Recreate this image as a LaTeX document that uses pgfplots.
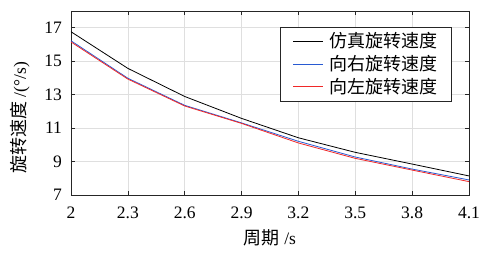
\documentclass[border=0pt]{standalone}
\usepackage{pgfplots}
\pgfplotsset{compat=1.18}
\usepackage{fontspec}
\setmainfont{Liberation Serif}
\newfontfamily\cjk{Noto Sans CJK SC}
\definecolor{myblue}{RGB}{40,90,210}
\definecolor{myred}{RGB}{240,40,40}
\definecolor{axgray}{RGB}{38,38,38}
\begin{document}
\fontsize{17.5}{20}\selectfont
\begin{tikzpicture}
\useasboundingbox (-71pt,-59pt) rectangle (420pt,195pt);
\begin{axis}[
  at={(0pt,0pt)}, anchor=south west,
  scale only axis, width=398pt, height=184pt,
  xmin=2, xmax=4.1, ymin=7, ymax=18,
  xtick={2,2.3,2.6,2.9,3.2,3.5,3.8,4.1},
  xticklabels={2,2.3,2.6,2.9,3.2,3.5,3.8,4.1},
  ytick={7,9,11,13,15,17},
  yticklabels={7,9,11,13,15,17},
  tick align=inside, major tick length=4pt,
  axis line style={axgray, line width=0.8pt},
  tick style={axgray, line width=0.6pt},
  grid=major, grid style={gray!25, line width=0.5pt},
  /pgf/number format/assume math mode=true,
  tick label style={font=\fontsize{17.5}{20}\selectfont, text=black},
  xticklabel style={yshift=-6pt},
  yticklabel style={xshift=-3pt},
  xlabel={{\cjk\fontsize{18}{20}\selectfont 周期} /s},
  ylabel={{\cjk\fontsize{18}{20}\selectfont 旋转速度} /(°/s)},
  label style={font=\fontsize{17.5}{20}\selectfont},
  xlabel style={at={(axis description cs:0.5,-0.234)}, anchor=center},
  ylabel style={at={(axis description cs:-0.128,0.42)}, anchor=center, rotate=0},
  legend style={at={(axis description cs:0.957,0.913)}, anchor=north east,
    draw=axgray, line width=0.6pt, fill=white,
    font=\cjk\fontsize{18}{22}\selectfont, inner xsep=12pt, inner ysep=3pt,
    row sep=1pt, cells={anchor=west},
    /tikz/every odd column/.append style={column sep=4pt}},
  legend image code/.code={\draw[mark repeat=2,mark phase=2,#1] plot coordinates {(0pt,0pt) (15pt,0pt) (30pt,0pt)};},
]
\addplot[black, line width=0.8pt] coordinates {
(2,16.76) (2.3,14.57) (2.6,12.89) (2.9,11.58) (3.2,10.42) (3.5,9.55) (3.8,8.85) (4.1,8.14)};
\addlegendentry{仿真旋转速度}
\addplot[myblue, line width=0.8pt] coordinates {
(2,16.22) (2.3,13.98) (2.6,12.36) (2.9,11.31) (3.2,10.21) (3.5,9.27) (3.8,8.55) (4.1,7.90)};
\addlegendentry{向右旋转速度}
\addplot[myred, line width=0.8pt] coordinates {
(2,16.15) (2.3,13.93) (2.6,12.32) (2.9,11.28) (3.2,10.11) (3.5,9.19) (3.8,8.49) (4.1,7.80)};
\addlegendentry{向左旋转速度}
\end{axis}
\end{tikzpicture}
\end{document}
